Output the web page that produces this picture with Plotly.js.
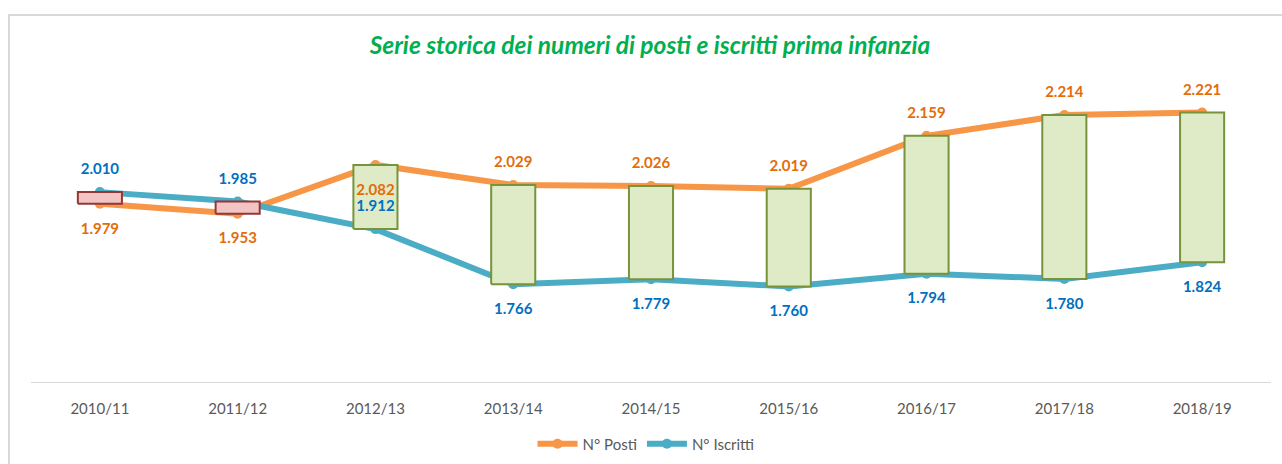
<!DOCTYPE html>
<html>
<head>
<meta charset="utf-8">
<script src="https://cdn.plot.ly/plotly-3.0.1.min.js"></script>
<style>
  html, body { margin: 0; padding: 0; background: #fff; }
  #wrap { position: relative; width: 1282px; height: 464px; }
  #chart { width: 1282px; height: 464px; }
  #frame { position: absolute; left: 8px; top: 14px; right: -4px; bottom: -4px;
           border-left: 2px solid #d9d9d9; border-top: 2px solid #d9d9d9; pointer-events: none; }
</style>
</head>
<body>
<div id="wrap"><div id="chart"></div><div id="frame"></div></div>
<script>
// ---- data ----
const years = ['2010/11','2011/12','2012/13','2013/14','2014/15','2015/16','2016/17','2017/18','2018/19'];
const posti = [1979, 1953, 2082, 2029, 2026, 2019, 2159, 2214, 2221];
const iscritti = [2010, 1985, 1912, 1766, 1779, 1760, 1794, 1780, 1824];

// ---- styles ----
const idx = years.map((_, i) => i);
const postiPos = ['bottom center','bottom center','bottom center','top center','top center','top center','top center','top center','top center'];
const iscrittiPos = ['top center','top center','top center','bottom center','bottom center','bottom center','bottom center','bottom center','bottom center'];
const padSize = p => p.map(s => s.indexOf('top') === 0 ? 21 : 28);
const halfW = 0.16;
const FONT = 'Lato, "Open Sans", sans-serif';

// up-down bars as filled polygons (drawn above lines)
function boxes(up) {
  const xs = [], ys = [];
  idx.forEach(i => {
    const isUp = iscritti[i] > posti[i];
    if (isUp !== up) return;
    const lo = Math.min(posti[i], iscritti[i]);
    const hi = Math.max(posti[i], iscritti[i]);
    xs.push(i - halfW, i + halfW, i + halfW, i - halfW, i - halfW, null);
    ys.push(lo, lo, hi, hi, lo, null);
  });
  return {x: xs, y: ys};
}
const upB = boxes(true), downB = boxes(false);

const traces = [
  {x: idx, y: posti, name: 'N° Posti', type: 'scatter', mode: 'lines+markers',
   line: {color: '#f79646', width: 6}, marker: {color: '#f79646', size: 10}, hoverinfo: 'skip'},
  {x: idx, y: iscritti, name: 'N° Iscritti', type: 'scatter', mode: 'lines+markers',
   line: {color: '#4bacc6', width: 6}, marker: {color: '#4bacc6', size: 10}, hoverinfo: 'skip'},
  {x: upB.x, y: upB.y, type: 'scatter', mode: 'lines', fill: 'toself', showlegend: false,
   fillcolor: '#f2c4c4', line: {color: '#953735', width: 2}, hoverinfo: 'skip'},
  {x: downB.x, y: downB.y, type: 'scatter', mode: 'lines', fill: 'toself', showlegend: false,
   fillcolor: '#dfebc6', line: {color: '#77933c', width: 2}, hoverinfo: 'skip'},
  {x: idx, y: posti, type: 'scatter', mode: 'markers+text', showlegend: false, cliponaxis: false,
   marker: {size: padSize(postiPos), opacity: 0}, texttemplate: '%{y:,.0f}', textposition: postiPos,
   textfont: {family: FONT, size: 15, color: '#e46c0a', weight: 'bold'}, hoverinfo: 'skip'},
  {x: idx, y: iscritti, type: 'scatter', mode: 'markers+text', showlegend: false, cliponaxis: false,
   marker: {size: padSize(iscrittiPos), opacity: 0}, texttemplate: '%{y:,.0f}', textposition: iscrittiPos,
   textfont: {family: FONT, size: 15, color: '#0070c0', weight: 'bold'}, hoverinfo: 'skip'}
];

const layout = {
  width: 1282, height: 464,
  margin: {l: 31, r: 11, t: 80, b: 82, autoexpand: false},
  paper_bgcolor: '#ffffff', plot_bgcolor: '#ffffff',
  separators: ',.',
  title: {text: '<b><i>Serie storica dei numeri di posti e iscritti prima infanzia</i></b>',
          font: {family: FONT, size: 24.5, color: '#00b050'},
          x: 0.507, xanchor: 'center', y: 0.903, yanchor: 'middle'},
  xaxis: {range: [-0.5, 8.5], tickvals: idx, ticktext: years, showgrid: false, zeroline: false,
          showline: true, linecolor: '#d9d9d9', linewidth: 1, ticks: '',
          ticklabelstandoff: 13, tickfont: {family: FONT, size: 15, color: '#595959'}, fixedrange: true},
  yaxis: {range: [1507, 2307], showgrid: false, zeroline: false, showticklabels: false,
          showline: false, fixedrange: true},
  showlegend: true,
  legend: {orientation: 'h', x: 0.496, xanchor: 'center', yref: 'container', y: 0.043, yanchor: 'middle',
           font: {family: FONT, size: 15, color: '#595959'}, itemwidth: 40, traceorder: 'normal'}
};

Plotly.newPlot('chart', traces, layout, {displayModeBar: false, staticPlot: true});
</script>
</body>
</html>
